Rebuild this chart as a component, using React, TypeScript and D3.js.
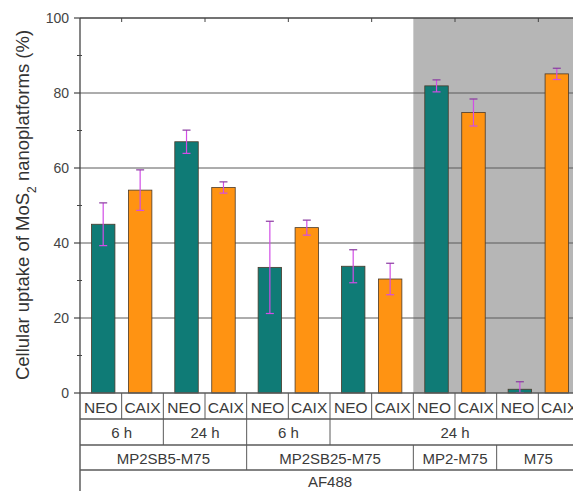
import React from "react";
import * as d3 from "d3";

const pairs = ["SB5-6h", "SB5-24h", "SB25-6h", "SB25-24h", "MP2-24h", "M75-24h"];
const series = ["NEO", "CAIX"];
const neoValues = [45, 67, 33.5, 33.8, 81.9, 1.0];
const neoErrors = [5.7, 3.1, 12.3, 4.4, 1.6, 2.0];
const caixValues = [54.1, 54.8, 44.1, 30.4, 74.8, 85.1];
const caixErrors = [5.4, 1.5, 2.0, 4.2, 3.6, 1.5];
const yTicks = [0, 20, 40, 60, 80, 100];
const yMinorTicks = [10, 30, 50, 70, 90];
const row1Labels = ["NEO", "CAIX", "NEO", "CAIX", "NEO", "CAIX", "NEO", "CAIX", "NEO", "CAIX", "NEO", "CAIX"];
const row2Labels = [
  { label: "6 h", from: 0, to: 2 },
  { label: "24 h", from: 2, to: 4 },
  { label: "6 h", from: 4, to: 6 },
  { label: "24 h", from: 6, to: 12 },
];
const row3Labels = [
  { label: "MP2SB5-M75", from: 0, to: 4 },
  { label: "MP2SB25-M75", from: 4, to: 8 },
  { label: "MP2-M75", from: 8, to: 10 },
  { label: "M75", from: 10, to: 12 },
];
const row4Labels = [{ label: "AF488", from: 0, to: 12 }];
const shadedFrom = 8;

const W = 573;
const H = 491;
const left = 80;
const right = 580;
const top = 18;
const bottom = 393;
const rowY = [393, 419, 445, 470, 492];

const FONT = "'Liberation Sans', Arial, Helvetica, sans-serif";
const TEAL = "#0f7b76";
const ORANGE = "#ff9312";
const ERR = "#d24de6";
const GRID = "#5a5a5a";
const TXT = "#3a3a3a";

export default function App() {
  const y = d3.scaleLinear().domain([0, 100]).range([bottom, top]);
  const xPair = d3.scaleBand<string>().domain(pairs).range([left, right]).padding(0);
  const xInner = d3
    .scaleBand<string>()
    .domain(series)
    .range([0, xPair.bandwidth()])
    .paddingInner(0.365)
    .paddingOuter(0.31);
  const xCell = d3.scaleLinear().domain([0, 12]).range([left, right]);

  const bars: any[] = [];
  pairs.forEach((p, i) => {
    bars.push({ key: p + "n", x: xPair(p)! + xInner("NEO")!, v: neoValues[i], e: neoErrors[i], c: TEAL });
    bars.push({ key: p + "c", x: xPair(p)! + xInner("CAIX")!, v: caixValues[i], e: caixErrors[i], c: ORANGE });
  });
  const bw = xInner.bandwidth();

  const spanRow = (items: any[], r: number, fs: number) =>
    items.map((it, i) => (
      <g key={r + "-" + i}>
        <text
          x={(xCell(it.from) + xCell(it.to)) / 2}
          y={(rowY[r] + rowY[r + 1]) / 2 + 1}
          dy="0.36em"
          textAnchor="middle"
          fontSize={fs}
          fill={TXT}
        >
          {it.label}
        </text>
        {it.from > 0 && (
          <line x1={xCell(it.from)} x2={xCell(it.from)} y1={rowY[r]} y2={rowY[r + 1]} stroke={GRID} strokeWidth={1} />
        )}
      </g>
    ));

  return (
    <svg
      width={W}
      height={H}
      style={{ position: "absolute", left: 0, top: 0, background: "#fff" }}
      fontFamily={FONT}
    >
      <rect x={xCell(shadedFrom)} y={top} width={right - xCell(shadedFrom)} height={bottom - top} fill="#b6b6b6" />
      {yTicks
        .filter((t) => t > 0 && t < 100)
        .map((t) => (
          <line key={"g" + t} x1={left} x2={right} y1={y(t)} y2={y(t)} stroke={GRID} strokeWidth={1} />
        ))}
      {bars.map((b) => (
        <rect
          key={b.key}
          x={b.x}
          y={y(b.v)}
          width={bw}
          height={y(0) - y(b.v)}
          fill={b.c}
          stroke="#4a3a2a"
          strokeWidth={0.8}
        />
      ))}
      {bars.map((b) => {
        const cx = b.x + bw / 2;
        return (
          <g key={"e" + b.key} stroke={ERR} strokeWidth={1.2}>
            <line x1={cx} x2={cx} y1={y(b.v + b.e)} y2={y(Math.max(0, b.v - b.e))} />
            <line x1={cx - 4} x2={cx + 4} y1={y(b.v + b.e)} y2={y(b.v + b.e)} stroke="#8a3aa0" />
            <line x1={cx - 4} x2={cx + 4} y1={y(Math.max(0, b.v - b.e))} y2={y(Math.max(0, b.v - b.e))} />
          </g>
        );
      })}
      {/* axes frame */}
      <line x1={left} x2={right} y1={top} y2={top} stroke="#444" strokeWidth={1.3} />
      <line x1={left} x2={left} y1={top} y2={H} stroke="#444" strokeWidth={1.3} />
      {[1, 3, 5, 7, 9, 11].map((i) => (
        <line key={"tt" + i} x1={xCell(i)} x2={xCell(i)} y1={top} y2={top + 4} stroke="#444" />
      ))}
      {yTicks.map((t) => (
        <g key={"yt" + t}>
          <line x1={left - 6} x2={left} y1={y(t)} y2={y(t)} stroke="#444" strokeWidth={1.2} />
          <text x={left - 11} y={y(t)} dy="0.36em" textAnchor="end" fontSize={14} fill="#444">
            {t}
          </text>
        </g>
      ))}
      {yMinorTicks.map((t) => (
        <line key={"ym" + t} x1={left - 3} x2={left + 2} y1={y(t)} y2={y(t)} stroke="#444" />
      ))}
      <text
        transform={`translate(29,205) rotate(-90)`}
        textAnchor="middle"
        fontSize={18.5}
        fill="#333"
      >
        Cellular uptake of MoS<tspan baselineShift="sub" fontSize={12}>2</tspan> nanoplatforms (%)
      </text>
      {/* table */}
      {rowY.slice(0, 4).map((ry, i) => (
        <line key={"r" + i} x1={left} x2={right} y1={ry} y2={ry} stroke={GRID} strokeWidth={1.3} />
      ))}
      {row1Labels.map((l, i) => (
        <g key={"c" + i}>
          <text
            x={(xCell(i) + xCell(i + 1)) / 2}
            y={(rowY[0] + rowY[1]) / 2 + 1}
            dy="0.36em"
            textAnchor="middle"
            fontSize={15.5}
            fill={TXT}
          >
            {l}
          </text>
          {i > 0 && (
            <line x1={xCell(i)} x2={xCell(i)} y1={rowY[0]} y2={rowY[1]} stroke={GRID} strokeWidth={1} />
          )}
        </g>
      ))}
      {spanRow(row2Labels, 1, 15)}
      {spanRow(row3Labels, 2, 15)}
      {spanRow(row4Labels, 3, 15)}
    </svg>
  );
}
